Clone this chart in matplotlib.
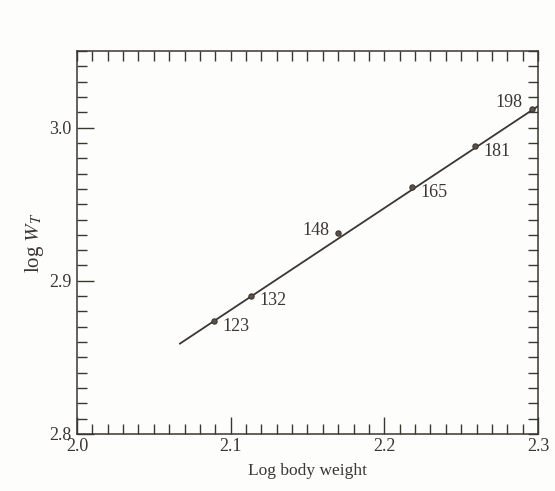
import matplotlib
matplotlib.use("Agg")
import matplotlib.pyplot as plt
from matplotlib.ticker import MultipleLocator, NullFormatter

# Data
weights = [123, 132, 148, 165, 181, 198]
log_body_weight = [2.089, 2.113, 2.170, 2.218, 2.259, 2.296]
log_WT = [2.874, 2.890, 2.931, 2.961, 2.988, 3.012]
fit_x = [2.067, 2.300]
fit_y = [2.859, 3.014]
label_offsets = [(6, -4, 'left'), (6, -3, 'left'), (-6, 2, 'right'),
                 (6, -4, 'left'), (6, -4, 'left'), (-7, 5, 'right')]

xticks = [2.0, 2.1, 2.2, 2.3]
yticks = [2.8, 2.9, 3.0]

ink = '#3b3631'
plt.rcParams['font.family'] = ['Liberation Serif', 'DejaVu Serif']
plt.rcParams['mathtext.fontset'] = 'stix'

fig = plt.figure(figsize=(5.55, 4.91), dpi=100, facecolor='#fdfdfb')
ax = fig.add_axes([0.1387, 0.1161, 0.8307, 0.78])
ax.set_facecolor('#fdfdfb')

ax.plot(fit_x, fit_y, color=ink, lw=1.3, zorder=2)
ax.plot(log_body_weight, log_WT, 'o', ms=3.8, color=ink, mfc='#5a534c', mew=0.8, zorder=3)
for x, y, w, (dx, dy, ha) in zip(log_body_weight, log_WT, weights, label_offsets):
    ax.annotate(str(w), (x, y), xytext=(dx, dy), textcoords='offset points',
                ha=ha, va='center', fontsize=13, color=ink)

ax.set_xlim(2.0, 2.3)
ax.set_ylim(2.8, 3.05)
ax.set_xticks(xticks)
ax.set_yticks(yticks)
ax.set_xticklabels([f"{t:.1f}" for t in xticks])
ax.set_yticklabels([f"{t:.1f}" for t in yticks])
ax.xaxis.set_minor_locator(MultipleLocator(0.01))
ax.yaxis.set_minor_locator(MultipleLocator(0.01))
ax.tick_params(which='both', direction='in', color=ink, labelcolor=ink,
               labelsize=13, width=1.0)
ax.tick_params(axis='x', which='major', length=12.5, pad=3)
ax.tick_params(axis='y', which='major', length=12.5, pad=4)
ax.tick_params(which='minor', length=7)
for s in ax.spines.values():
    s.set_color(ink)
    s.set_linewidth(1.1)

# top/right ticks all short
secx = ax.secondary_xaxis('top')
secx.xaxis.set_major_locator(MultipleLocator(0.01))
secx.xaxis.set_major_formatter(NullFormatter())
secx.tick_params(direction='in', length=7, width=1.0, color=ink)
secx.spines['top'].set_visible(False)
secy = ax.secondary_yaxis('right')
secy.yaxis.set_major_locator(MultipleLocator(0.01))
secy.yaxis.set_major_formatter(NullFormatter())
secy.tick_params(direction='in', length=7, width=1.0, color=ink)
secy.spines['right'].set_visible(False)

ax.set_xlabel('Log body weight', fontsize=12.5, color=ink, labelpad=6)
ax.set_ylabel('log $W_T$', fontsize=15, color=ink, labelpad=2)

fig.savefig('out.png', dpi=100, facecolor=fig.get_facecolor())
